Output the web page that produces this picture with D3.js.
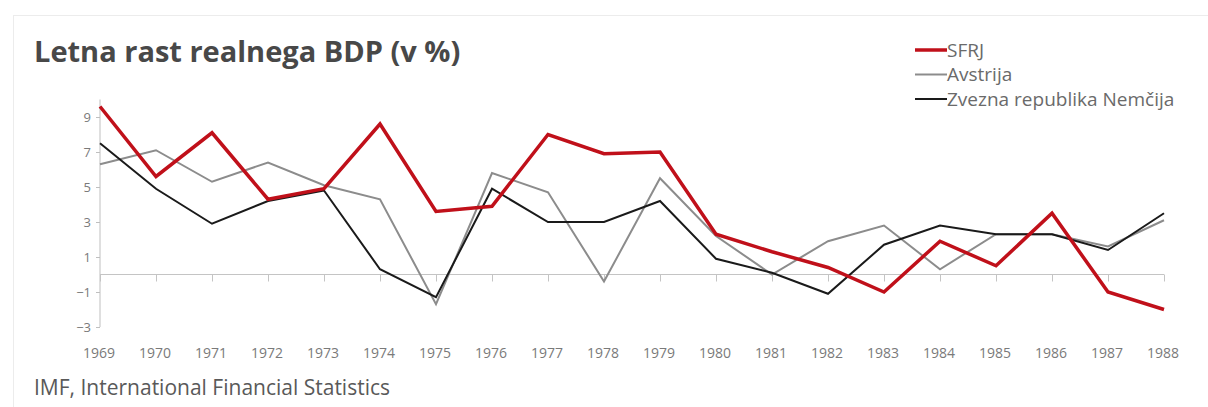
<!DOCTYPE html>
<html lang="en">
<head>
<meta charset="utf-8">
<title>Letna rast realnega BDP</title>
<script src="https://d3js.org/d3.v7.min.js"></script>
<style>
  body { margin: 0; background: #fff; }
  text { font-family: "Open Sans", "Noto Sans", sans-serif; }
</style>
</head>
<body>
<script>
// data
var years = [1969, 1970, 1971, 1972, 1973, 1974, 1975, 1976, 1977, 1978,
             1979, 1980, 1981, 1982, 1983, 1984, 1985, 1986, 1987, 1988];
var sfrj = [9.6, 5.6, 8.1, 4.3, 4.9, 8.6, 3.6, 3.9, 8.0, 6.9,
            7.0, 2.3, 1.3, 0.4, -1.0, 1.9, 0.5, 3.5, -1.0, -2.0];
var avstrija = [6.3, 7.1, 5.3, 6.4, 5.1, 4.3, -1.7, 5.8, 4.7, -0.4,
                5.5, 2.2, 0.0, 1.9, 2.8, 0.3, 2.3, 2.3, 1.6, 3.1];
var nemcija = [7.5, 4.9, 2.9, 4.2, 4.8, 0.3, -1.3, 4.9, 3.0, 3.0,
               4.2, 0.9, 0.1, -1.1, 1.7, 2.8, 2.3, 2.3, 1.4, 3.5];
var yTicks = [-3, -1, 1, 3, 5, 7, 9];

var seriesNames = ["SFRJ", "Avstrija", "Zvezna republika Nemčija"];
var seriesColors = ["#c0101a", "#8c8c8c", "#1a1a1a"];
var seriesWidths = [3.5, 2, 2];

var width = 1208, height = 407;

var svg = d3.select("body").append("svg")
    .attr("width", width)
    .attr("height", height);

// faint frame of the original chart box
svg.append("rect")
    .attr("x", 13.5).attr("y", 15.5)
    .attr("width", 1220).attr("height", 420)
    .attr("fill", "none")
    .attr("stroke", "#ececec");

var x = d3.scalePoint()
    .domain(years)
    .range([100, 1164]);

var y = d3.scaleLinear()
    .domain([-3, 10])
    .range([327, 99.5]);

// y axis
var yAxis = svg.append("g")
    .attr("transform", "translate(100,0)")
    .call(d3.axisLeft(y).tickValues(yTicks).tickSize(4).tickPadding(5));
yAxis.select(".domain").attr("stroke", "#bfbfbf").attr("d", "M0," + y(10) + "V" + y(-3));
yAxis.selectAll(".tick line").attr("stroke", "#bfbfbf");
yAxis.selectAll(".tick text")
    .attr("fill", "#7a7a7a")
    .style("font-size", "13px");

// zero line with category ticks
var zeroAxis = svg.append("g")
    .attr("transform", "translate(0," + y(0) + ")")
    .call(d3.axisBottom(x).tickSize(7).tickFormat(""));
zeroAxis.select(".domain").attr("stroke", "#c4c4c4").attr("d", "M100,0H1164");
zeroAxis.selectAll(".tick line").attr("stroke", "#c4c4c4");

// year labels at the bottom
svg.append("g").selectAll("text")
    .data(years)
    .enter().append("text")
    .attr("x", function(d) { return x(d) - 1; })
    .attr("y", 358)
    .attr("text-anchor", "middle")
    .attr("fill", "#7a7a7a")
    .style("font-size", "14px")
    .text(function(d) { return d; });

var line = d3.line()
    .x(function(d, i) { return x(years[i]); })
    .y(function(d) { return y(d); });

var allSeries = [sfrj, avstrija, nemcija];
// draw grey, black, then red on top
[1, 2, 0].forEach(function(k) {
  svg.append("path")
      .datum(allSeries[k])
      .attr("d", line)
      .attr("fill", "none")
      .attr("stroke", seriesColors[k])
      .attr("stroke-width", seriesWidths[k])
      .attr("stroke-linejoin", "miter");
});

// title
svg.append("text")
    .attr("x", 34)
    .attr("y", 62)
    .attr("fill", "#484848")
    .style("font-size", "29px")
    .style("font-weight", "bold")
    .text("Letna rast realnega BDP (v %)");

// legend
var legend = svg.append("g").selectAll("g")
    .data(seriesNames)
    .enter().append("g")
    .attr("transform", function(d, i) { return "translate(915," + (50 + i * 24.5) + ")"; });
legend.append("line")
    .attr("x1", 0).attr("x2", 32)
    .attr("stroke", function(d, i) { return seriesColors[i]; })
    .attr("stroke-width", function(d, i) { return i === 0 ? 3.5 : 2; });
legend.append("text")
    .attr("x", 32)
    .attr("y", 6.5)
    .attr("fill", "#6a6a6a")
    .style("font-size", "19px")
    .text(function(d) { return d; });

// source
svg.append("text")
    .attr("x", 34)
    .attr("y", 395)
    .attr("fill", "#595959")
    .style("font-size", "21px")
    .text("IMF, International Financial Statistics");
</script>
</body>
</html>
